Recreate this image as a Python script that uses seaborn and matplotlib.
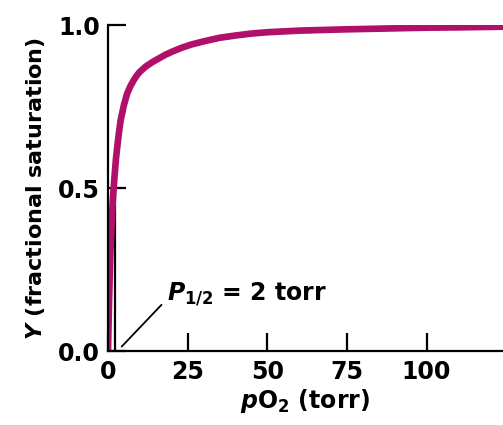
import pandas as pd
import matplotlib
matplotlib.use("Agg")
import matplotlib.pyplot as plt
import seaborn as sns

# curve
po2 = [0, 0.25, 0.5, 0.75, 1, 1.5, 2, 2.5, 3, 3.5, 4, 5, 6, 7, 8, 9, 10, 12, 14, 16,
       18, 20, 23, 26, 30, 35, 40, 45, 50, 60, 75, 90, 100, 110, 124]
sat = [0, 0.12, 0.22, 0.3, 0.36, 0.46, 0.53, 0.59, 0.635, 0.675, 0.71, 0.755, 0.79,
       0.812, 0.83, 0.845, 0.857, 0.874, 0.887, 0.898, 0.909, 0.918, 0.93, 0.94, 0.95,
       0.961, 0.968, 0.974, 0.978, 0.983, 0.987, 0.99, 0.992, 0.993, 0.995]
p_half = 2
x_ticks = [0, 25, 50, 75, 100]
y_ticks = [0.0, 0.5, 1.0]

df = pd.DataFrame({"pO2": po2, "Y": sat})

sns.set_style("white")
plt.rcParams["font.family"] = ["DejaVu Sans"]
plt.rcParams["font.weight"] = "bold"
plt.rcParams["text.color"] = "black"
plt.rcParams["axes.labelcolor"] = "black"
plt.rcParams["mathtext.fontset"] = "custom"
plt.rcParams["mathtext.rm"] = "DejaVu Sans:bold"
plt.rcParams["mathtext.it"] = "DejaVu Sans:italic:bold"
plt.rcParams["mathtext.bf"] = "DejaVu Sans:bold"

fig = plt.figure(figsize=(5.03, 4.25), dpi=100)
ax = fig.add_axes([0.2147, 0.173, 0.7853, 0.768])

# P1/2 marker
ax.plot([p_half + 0.3, p_half + 0.3], [0, 0.5], color="black", lw=1.6, solid_capstyle="butt")

sns.lineplot(data=df, x="pO2", y="Y", color="#B0106A", lw=4.8, ax=ax)

ax.plot([4.3, 16.8], [0.015, 0.143], color="black", lw=1.3)
ax.text(18.5, 0.175, r"$\mathit{P}_{1/2}$ = 2 torr", fontsize=17, fontweight="bold",
        va="center", ha="left", color="black")

ax.set_xlim(0, 124)
ax.set_ylim(0, 1.0)
ax.set_xticks(x_ticks)
ax.set_yticks(y_ticks)
ax.set_yticklabels([f"{v:.1f}" for v in y_ticks])
ax.tick_params(bottom=True, left=True, direction="in", length=13, width=1.6,
               labelsize=17, pad=6, colors="black")
for lab in ax.get_xticklabels() + ax.get_yticklabels():
    lab.set_fontweight("bold")

sns.despine(ax=ax)
for s in ["left", "bottom"]:
    ax.spines[s].set_linewidth(1.6)
    ax.spines[s].set_color("black")

ax.set_xlabel(r"$\mathit{p}$O$_2$ (torr)", fontsize=17, fontweight="bold", labelpad=2)
ax.set_ylabel(r"$\mathit{Y}$ (fractional saturation)", fontsize=16, fontweight="bold", labelpad=8)

fig.savefig("out.png", dpi=100)
